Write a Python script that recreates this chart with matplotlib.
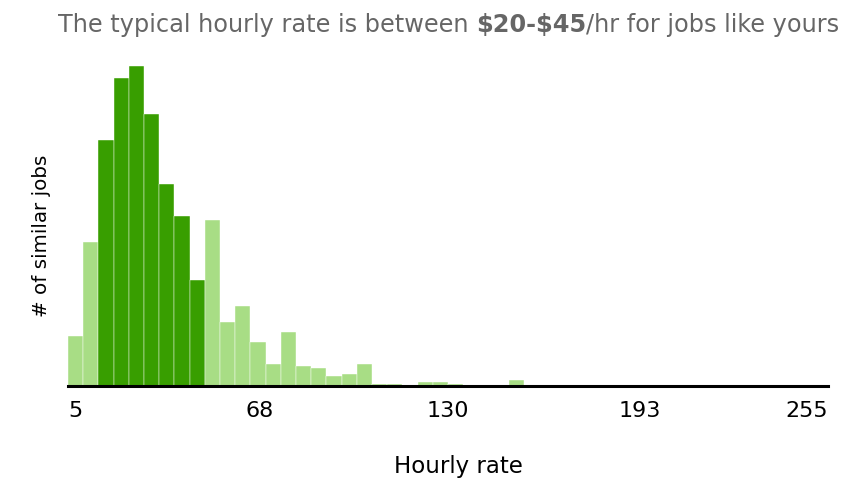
import matplotlib
matplotlib.use("Agg")
import matplotlib.pyplot as plt
import numpy as np

plt.rcParams['font.family'] = ['DejaVu Sans']

# $5 bins from 5 to 255, counts
bin_edges = list(range(5, 260, 5))
counts = [25, 72, 123, 154, 160, 136, 101, 85, 53, 83,
          32, 40, 22, 11, 27, 10, 9, 5, 6, 11,
          1, 1, 0, 2, 2, 1, 0, 0, 0, 3,
          0, 0, 0, 0, 0, 0, 0, 0, 0, 0,
          0, 0, 0, 0, 0, 0, 0, 0, 0, 0]
typical_low, typical_high = 15, 50
tick_values = [5, 68, 130, 193, 255]

dark = '#389e00'
light = '#a8dd85'

W, H = 862, 496
fig = plt.figure(figsize=(W / 100, H / 100), dpi=100)
ax = fig.add_axes([68 / W, (H - 386) / H, (828 - 68) / W, (386 - 60) / H])

lefts = np.array(bin_edges[:-1])
colors = [dark if typical_low <= l < typical_high else light for l in lefts]
ax.bar(lefts, counts, width=5, align='edge', color=colors,
       edgecolor='#ffffff', linewidth=0.3)

ax.set_xlim(5, 255)
ax.set_ylim(0, 163)
for s in ['top', 'right', 'left']:
    ax.spines[s].set_visible(False)
ax.spines['bottom'].set_linewidth(2.2)
ax.spines['bottom'].set_color('black')
ax.set_yticks([])
ax.set_xticks(tick_values)
ax.set_xticklabels([str(v) for v in tick_values], fontsize=16)
ax.tick_params(axis='x', length=0, pad=11)
labels = ax.get_xticklabels()
labels[0].set_horizontalalignment('left')
labels[-1].set_horizontalalignment('right')

fig.text(458 / W, 1 - 466 / H, 'Hourly rate', fontsize=16.5,
         ha='center', va='center')
fig.text(42 / W, 1 - 236 / H, '# of similar jobs', fontsize=14.3,
         rotation=90, ha='center', va='center')

# title with a bold part in the middle
parts = [('The typical hourly rate is between ', 'normal'),
         ('$20-$45', 'bold'),
         ('/hr for jobs like yours', 'normal')]
fig.canvas.draw()
renderer = fig.canvas.get_renderer()
x = 58
for txt, weight in parts:
    t = fig.text(x / W, 1 - 25 / H, txt.replace('$', r'\$'), fontsize=17.3,
                 color='#666666', fontweight=weight, ha='left', va='center')
    bb = t.get_window_extent(renderer)
    x += bb.width

fig.savefig('out.png', dpi=100)
